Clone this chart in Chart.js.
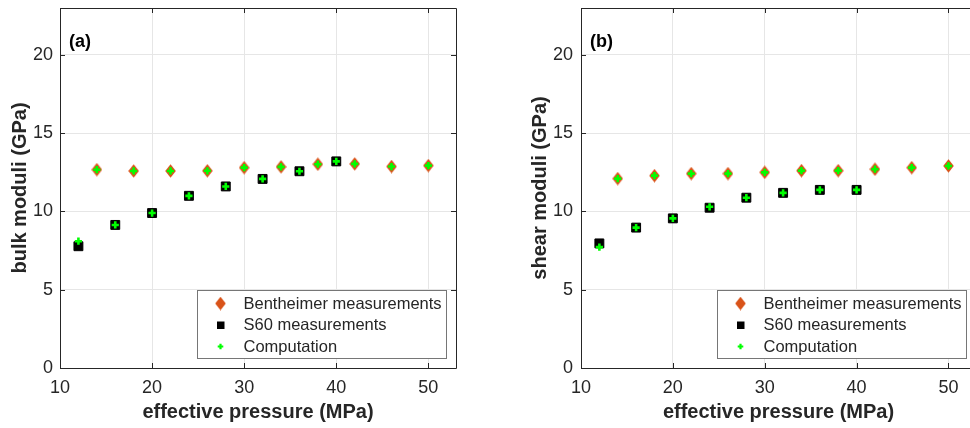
<!DOCTYPE html>
<html>
<head>
<meta charset="utf-8">
<script src="https://cdn.jsdelivr.net/npm/chart.js@4.4.1/dist/chart.umd.min.js"></script>
<style>
  html, body { margin: 0; padding: 0; background: #fff; overflow: hidden; }
  #wrap { position: relative; width: 970px; height: 428px; overflow: hidden; }
  #left { position: absolute; left: 0; top: 0; }
  #right { position: absolute; left: 485px; top: 0; }
</style>
</head>
<body>
<div id="wrap">
  <canvas id="left" width="485" height="428"></canvas>
  <canvas id="right" width="500" height="428"></canvas>
</div>
<script>
const xTicks = [10, 20, 30, 40, 50];
const yTicks = [0, 5, 10, 15, 20];
const seriesNames = ["Bentheimer measurements", "S60 measurements", "Computation"];

const pressureBentheimer = [14, 18, 22, 26, 30, 34, 38, 42, 46, 50];
const pressureS60 = [12, 16, 20, 24, 28, 32, 36, 40];
const pressureComputation = [12, 14, 16, 18, 20, 22, 24, 26, 28, 30, 32, 34, 36, 38, 40, 42, 46, 50];

// (a) bulk moduli, GPa
const bulkBentheimer = [12.67, 12.59, 12.59, 12.6, 12.8, 12.85, 13.02, 13.04, 12.87, 12.93];
const bulkS60 = [7.78, 9.14, 9.9, 11.0, 11.6, 12.08, 12.57, 13.2];
const bulkComputation = [8.1, 12.67, 9.14, 12.59, 9.9, 12.59, 11.0, 12.6, 11.6, 12.8, 12.08, 12.85, 12.57, 13.02, 13.2, 13.04, 12.87, 12.93];

// (b) shear moduli, GPa
const shearBentheimer = [12.1, 12.29, 12.42, 12.42, 12.5, 12.61, 12.61, 12.7, 12.8, 12.91];
const shearS60 = [7.96, 8.97, 9.56, 10.24, 10.88, 11.19, 11.38, 11.38];
const shearComputation = [7.72, 12.1, 8.97, 12.29, 9.56, 12.42, 10.3, 12.42, 10.88, 12.5, 11.19, 12.61, 11.38, 12.61, 11.38, 12.7, 12.8, 12.91];

const FONT = "'Liberation Sans', Arial, Helvetica, sans-serif";
const AXIS = "#262626";
const ORANGE = "#d95319";
const GREEN = "#00ff00";

function pairs(xs, ys) {
  return xs.map((x, i) => ({ x: x, y: ys[i] }));
}

// matlab style diamond is a bit taller than wide
const diamond = document.createElement("canvas");
diamond.width = 11;
diamond.height = 14;
const dctx = diamond.getContext("2d");
dctx.fillStyle = ORANGE;
dctx.beginPath();
dctx.moveTo(5.5, 0.2);
dctx.lineTo(10.8, 7);
dctx.lineTo(5.5, 13.8);
dctx.lineTo(0.2, 7);
dctx.closePath();
dctx.fill();

const framePlugin = {
  id: "frame",
  afterDatasetsDraw(chart, args, opts) {
    const ctx = chart.ctx;
    const a = chart.chartArea;
    const px = v => Math.round(v) + 0.5;
    ctx.save();

    // box + inward ticks
    ctx.strokeStyle = AXIS;
    ctx.lineWidth = 1;
    ctx.beginPath();
    ctx.rect(px(a.left), px(a.top), Math.round(a.right) - Math.round(a.left), Math.round(a.bottom) - Math.round(a.top));
    xTicks.forEach(v => {
      const x = px(chart.scales.x.getPixelForValue(v));
      ctx.moveTo(x, a.bottom); ctx.lineTo(x, a.bottom - 5);
      ctx.moveTo(x, a.top); ctx.lineTo(x, a.top + 5);
    });
    yTicks.forEach(v => {
      const y = px(chart.scales.y.getPixelForValue(v));
      ctx.moveTo(a.left, y); ctx.lineTo(a.left + 5, y);
      ctx.moveTo(a.right, y); ctx.lineTo(a.right - 5, y);
    });
    ctx.stroke();

    // panel label
    ctx.fillStyle = "#000";
    ctx.font = "bold 18px " + FONT;
    ctx.textBaseline = "middle";
    ctx.textAlign = "left";
    ctx.fillText(opts.label, a.left + 9, a.top + 34);

    // legend box
    const bw = 249, bh = 68;
    const bx = Math.round(a.right - 10.5 - bw), by = Math.round(a.bottom - 10.5 - bh);
    ctx.fillStyle = "#fff";
    ctx.fillRect(bx, by, bw, bh);
    ctx.strokeStyle = "#767676";
    ctx.strokeRect(bx + 0.5, by + 0.5, bw, bh);

    const rows = [13.5, 35, 56.5];
    const mx = bx + 23.5;
    ctx.drawImage(diamond, mx - 5.5, by + rows[0] - 7);
    ctx.fillStyle = "#000";
    ctx.fillRect(mx - 3.5, by + rows[1] - 3.5, 7.5, 7.5);
    ctx.strokeStyle = GREEN;
    ctx.lineWidth = 2.2;
    ctx.beginPath();
    ctx.moveTo(mx - 2.8, by + rows[2]); ctx.lineTo(mx + 2.8, by + rows[2]);
    ctx.moveTo(mx, by + rows[2] - 2.8); ctx.lineTo(mx, by + rows[2] + 2.8);
    ctx.stroke();

    ctx.fillStyle = AXIS;
    ctx.font = "16.5px " + FONT;
    seriesNames.forEach((name, i) => {
      ctx.fillText(name, bx + 46.5, by + rows[i] + 0.5);
    });
    ctx.restore();
  }
};

function makeChart(id, bentheimer, s60, computation, yTitle, label, layout) {
  return new Chart(document.getElementById(id), {
    type: "scatter",
    data: {
      datasets: [
        {
          label: seriesNames[0],
          data: pairs(pressureBentheimer, bentheimer),
          pointStyle: diamond,
          pointRadius: 7,
          order: 3
        },
        {
          label: seriesNames[1],
          data: pairs(pressureS60, s60),
          pointStyle: "rect",
          pointRadius: 6.3,
          backgroundColor: "#000",
          borderColor: "#000",
          borderWidth: 1,
          order: 2
        },
        {
          label: seriesNames[2],
          data: pairs(pressureComputation, computation),
          pointStyle: "cross",
          pointRadius: 3.6,
          borderColor: GREEN,
          borderWidth: 2.6,
          order: 1
        }
      ]
    },
    options: {
      responsive: false,
      animation: false,
      events: [],
      layout: { padding: { left: 0, top: 6, right: layout.rightPad, bottom: 0 } },
      plugins: {
        legend: { display: false },
        tooltip: { enabled: false },
        frame: { label: label }
      },
      scales: {
        x: {
          type: "linear",
          min: 10,
          max: 53,
          afterBuildTicks: s => { s.ticks = xTicks.map(v => ({ value: v })); },
          afterFit: s => { s.height = 60; s.paddingLeft = 0; s.paddingRight = 0; },
          grid: { color: "#e6e6e6", drawTicks: false },
          border: { display: false },
          ticks: { color: AXIS, font: { family: FONT, size: 18 }, padding: 9, maxRotation: 0 },
          title: {
            display: true,
            text: "effective pressure (MPa)",
            color: AXIS,
            font: { family: FONT, size: 20, weight: "bold" },
            padding: { top: 0, bottom: 4 }
          }
        },
        y: {
          type: "linear",
          min: 0,
          max: 23,
          afterBuildTicks: s => { s.ticks = yTicks.map(v => ({ value: v })); },
          afterFit: s => { s.width = layout.yWidth; s.paddingTop = 0; s.paddingBottom = 0; },
          grid: { color: "#e6e6e6", drawTicks: false },
          border: { display: false },
          ticks: { color: AXIS, font: { family: FONT, size: 18 }, padding: layout.tickPad },
          title: {
            display: true,
            text: yTitle,
            color: AXIS,
            font: { family: FONT, size: 20, weight: "bold" },
            padding: { top: layout.titlePad, bottom: 0 }
          }
        }
      }
    },
    plugins: [framePlugin]
  });
}

makeChart("left", bulkBentheimer, bulkS60, bulkComputation, "bulk moduli (GPa)", "(a)",
  { yWidth: 60, rightPad: 29, tickPad: 7, titlePad: 8 });
makeChart("right", shearBentheimer, shearS60, shearComputation, "shear moduli (GPa)", "(b)",
  { yWidth: 96, rightPad: 9, tickPad: 8, titlePad: 43 });
</script>
</body>
</html>
